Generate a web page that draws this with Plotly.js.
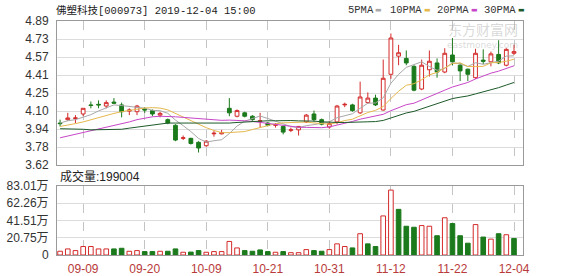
<!DOCTYPE html>
<html>
<head>
<meta charset="utf-8">
<script src="https://cdn.plot.ly/plotly-3.0.1.min.js"></script>
<style>
  html, body { margin: 0; padding: 0; background: #fff; }
  #chart { width: 578px; height: 276px; }
</style>
</head>
<body>
<div id="chart"></div>
<script>
// 佛塑科技 (000973) daily K-line, 2019-09-04 .. 2019-12-04
const dates = [
  '09-04','09-05','09-06','09-09','09-10','09-11','09-12','09-16','09-17','09-18',
  '09-19','09-20','09-23','09-24','09-25','09-26','09-27','09-30','10-08','10-09',
  '10-10','10-11','10-14','10-15','10-16','10-17','10-18','10-21','10-22','10-23',
  '10-24','10-25','10-28','10-29','10-30','10-31','11-01','11-04','11-05','11-06',
  '11-07','11-08','11-11','11-12','11-13','11-14','11-15','11-18','11-19','11-20',
  '11-21','11-22','11-25','11-26','11-27','11-28','11-29','12-02','12-03','12-04'
];
const open = [
  3.99, 4.02, 4.03, 4.07, 4.15, 4.155, 4.14, 4.175, 4.15, 4.095,
  4.09, 4.115, 4.10, 4.06, 4.02, 3.97, 3.855, 3.855, 3.82, 3.79,
  3.895, 3.895, 4.12, 4.05, 4.08, 4.05, 4.005, 3.99, 3.97, 3.96,
  3.925, 3.93, 4.00, 4.07, 4.02, 3.955, 4.00, 4.15, 4.15, 4.08,
  4.17, 4.21, 4.105, 4.42, 4.58, 4.56, 4.49, 4.29, 4.46, 4.52,
  4.44, 4.59, 4.50, 4.465, 4.39, 4.545, 4.53, 4.595, 4.50, 4.605
];
const high = [
  4.02, 4.08, 4.06, 4.12, 4.18, 4.19, 4.19, 4.21, 4.17, 4.12,
  4.15, 4.13, 4.11, 4.09, 4.03, 3.98, 3.88, 3.86, 3.83, 3.84,
  3.92, 3.93, 4.21, 4.11, 4.09, 4.06, 4.08, 4.00, 3.99, 3.97,
  3.95, 3.96, 4.07, 4.10, 4.03, 4.01, 4.15, 4.17, 4.16, 4.355,
  4.26, 4.24, 4.55, 4.78, 4.68, 4.63, 4.50, 4.55, 4.63, 4.56,
  4.65, 4.74, 4.52, 4.47, 4.645, 4.64, 4.62, 4.72, 4.65, 4.68
];
const low = [
  3.96, 4.01, 3.99, 4.05, 4.12, 4.12, 4.12, 4.16, 4.04, 4.06,
  4.06, 4.08, 4.05, 4.04, 3.98, 3.83, 3.84, 3.80, 3.73, 3.78,
  3.87, 3.89, 4.05, 4.04, 4.04, 4.01, 3.95, 3.96, 3.95, 3.89,
  3.91, 3.88, 3.99, 4.00, 3.97, 3.94, 3.98, 4.13, 4.09, 4.07,
  4.16, 4.14, 4.10, 4.38, 4.50, 4.50, 4.27, 4.28, 4.40, 4.39,
  4.43, 4.50, 4.36, 4.36, 4.38, 4.51, 4.49, 4.51, 4.49, 4.59
];
const close = [
  3.985, 4.035, 4.035, 4.12, 4.145, 4.15, 4.17, 4.165, 4.09, 4.105,
  4.14, 4.105, 4.07, 4.075, 3.99, 3.84, 3.86, 3.81, 3.77, 3.83,
  3.90, 3.905, 4.08, 4.10, 4.05, 4.02, 4.01, 3.97, 3.975, 3.91,
  3.93, 3.96, 4.06, 4.02, 3.98, 3.985, 4.14, 4.155, 4.10, 4.22,
  4.21, 4.15, 4.385, 4.74, 4.61, 4.52, 4.28, 4.50, 4.535, 4.44,
  4.605, 4.53, 4.45, 4.42, 4.605, 4.535, 4.60, 4.52, 4.64, 4.62
];
// close of the session before the first one shown
const prevClose = 3.97;
const volume = [
  45000, 73000, 53000, 102000, 102000, 73000, 73000, 73000, 81000, 45000,
  53000, 41000, 41000, 45000, 45000, 73000, 33000, 35000, 53000, 33000,
  41000, 41000, 163000, 85000, 53000, 45000, 61000, 41000, 33000, 41000,
  28000, 28000, 65000, 53000, 45000, 65000, 134000, 102000, 85000, 256000,
  134000, 102000, 470000, 781000, 549000, 346000, 334000, 354000, 346000, 232000,
  448000, 378000, 232000, 142000, 366000, 216000, 191000, 256000, 244000, 199004
];
const ma5 = [
  3.99, 4.01, 4.02, 4.04, 4.064, 4.097, 4.124, 4.15, 4.144, 4.136,
  4.134, 4.121, 4.102, 4.099, 4.076, 4.016, 3.967, 3.915, 3.854, 3.822,
  3.834, 3.843, 3.897, 3.963, 4.007, 4.031, 4.052, 4.03, 4.005, 3.977,
  3.959, 3.949, 3.967, 3.976, 3.99, 4.001, 4.037, 4.056, 4.072, 4.12,
  4.165, 4.167, 4.213, 4.341, 4.419, 4.481, 4.507, 4.53, 4.489, 4.455,
  4.472, 4.522, 4.512, 4.489, 4.522, 4.508, 4.522, 4.536, 4.58, 4.583
];
const ma10 = [
  3.96, 3.97, 3.985, 4.00, 4.02, 4.04, 4.06, 4.075, 4.09, 4.10,
  4.116, 4.123, 4.126, 4.122, 4.106, 4.075, 4.044, 4.009, 3.977, 3.949,
  3.925, 3.905, 3.906, 3.909, 3.915, 3.933, 3.948, 3.964, 3.984, 3.992,
  3.995, 4.001, 3.999, 3.991, 3.984, 3.98, 3.993, 4.012, 4.024, 4.055,
  4.083, 4.102, 4.135, 4.207, 4.27, 4.323, 4.337, 4.372, 4.415, 4.437,
  4.477, 4.515, 4.521, 4.489, 4.489, 4.49, 4.522, 4.524, 4.535, 4.553
];
const ma20 = [
  3.86, 3.875, 3.89, 3.905, 3.92, 3.935, 3.95, 3.965, 3.985, 4.00,
  4.02, 4.035, 4.045, 4.05, 4.05, 4.045, 4.04, 4.035, 4.03, 4.025,
  4.02, 4.014, 4.016, 4.015, 4.01, 4.004, 3.996, 3.986, 3.98, 3.971,
  3.96, 3.953, 3.952, 3.95, 3.949, 3.956, 3.97, 3.988, 4.004, 4.024,
  4.039, 4.051, 4.067, 4.099, 4.127, 4.152, 4.165, 4.192, 4.22, 4.246,
  4.28, 4.308, 4.328, 4.348, 4.379, 4.407, 4.43, 4.448, 4.475, 4.495
];
const ma30 = [
  3.94, 3.94, 3.935, 3.935, 3.93, 3.93, 3.93, 3.93, 3.935, 3.945,
  3.955, 3.965, 3.975, 3.985, 3.99, 3.99, 3.99, 3.99, 3.985, 3.985,
  3.985, 3.99, 3.99, 3.995, 4.00, 4.00, 4.005, 4.01, 4.01, 4.014,
  4.012, 4.009, 4.01, 4.007, 4.001, 3.996, 3.995, 3.995, 3.995, 3.999,
  4.001, 4.003, 4.013, 4.035, 4.056, 4.079, 4.093, 4.116, 4.141, 4.161,
  4.185, 4.206, 4.218, 4.229, 4.247, 4.264, 4.284, 4.302, 4.325, 4.348
];
const priceTickText = ['3.62','3.78','3.94','4.10','4.25','4.41','4.57','4.73','4.89'];
const volTickText = ['0','20.75万','41.51万','62.26万','83.01万'];
const dateTickIdx = [3, 11, 19, 27, 35, 43, 51, 59];
const maNames = ['5PMA', '10PMA', '20PMA', '30PMA'];

// ---- drawing ----
const idx = dates.map((_, i) => i);
const RED = '#d42a2a', GREEN = '#1b7a1b';
const maColors = ['#a8a8a8', '#e6b84e', '#c846c8', '#1d5a2a'];

const priceMin = 3.62, priceMax = 4.89;
const priceTicks = priceTickText.map((_, k) => priceMin + k * (priceMax - priceMin) / (priceTickText.length - 1));
const volMax = 830100;
const volTicks = volTickText.map((_, k) => k * volMax / (volTickText.length - 1));

// volume bars are coloured by the change against the previous close
const volUp = close.map((c, i) => c >= (i === 0 ? prevClose : close[i - 1]));

// plot box in page pixels
const L = 57, R = 523, T = 21, B = 255;
const px = x => (x - L) / (R - L);
const py = y => (B - y) / (B - T);
const xRange = [-0.4, 60.17];

const traces = [
  {
    type: 'candlestick', x: idx, open: open, high: high, low: low, close: close,
    xaxis: 'x', yaxis: 'y', hoverinfo: 'skip', whiskerwidth: 0,
    increasing: { line: { color: RED, width: 1 }, fillcolor: '#ffffff' },
    decreasing: { line: { color: GREEN, width: 1 }, fillcolor: GREEN }
  }
];
[ma5, ma10, ma20, ma30].forEach((m, k) => {
  traces.push({
    type: 'scatter', mode: 'lines', x: idx, y: m, xaxis: 'x', yaxis: 'y',
    line: { color: maColors[k], width: 1 }, hoverinfo: 'skip', name: maNames[k]
  });
});
traces.push({
  type: 'bar', x: idx, y: volume, xaxis: 'x2', yaxis: 'y2', width: 0.6,
  marker: {
    color: volUp.map(u => u ? '#ffffff' : GREEN),
    line: { color: volUp.map(u => u ? RED : GREEN), width: 1 }
  },
  hoverinfo: 'skip'
});

const annotations = [
  {
    text: '成交量:' + volume[volume.length - 1], xref: 'paper', yref: 'paper',
    x: px(58), y: py(176), xanchor: 'left', yanchor: 'middle', showarrow: false,
    font: { family: 'Liberation Sans, Noto Sans CJK SC, sans-serif', size: 12, color: '#222' }
  },
  {
    text: '东方财富网', xref: 'paper', yref: 'paper', x: px(520), y: py(29),
    xanchor: 'right', yanchor: 'middle', showarrow: false,
    font: { family: 'Noto Sans CJK SC', size: 14, color: 'rgba(170,170,170,0.45)' }
  },
  {
    text: 'eastmoney.com', xref: 'paper', yref: 'paper', x: px(520), y: py(45),
    xanchor: 'right', yanchor: 'middle', showarrow: false,
    font: { family: 'DejaVu Sans', size: 9, color: 'rgba(170,170,170,0.45)' }
  }
];
const legendX = [346, 388, 435, 482];
maNames.forEach((n, k) => {
  annotations.push({
    text: n, xref: 'paper', yref: 'paper', x: px(legendX[k]), y: py(10),
    xanchor: 'left', yanchor: 'middle', showarrow: false,
    font: { family: 'Liberation Mono, DejaVu Sans Mono, monospace', size: 10.5, color: '#333' }
  });
  annotations.push({
    text: '▬', xref: 'paper', yref: 'paper', x: px(legendX[k] + n.length * 6.3 + 2), y: py(10),
    xanchor: 'left', yanchor: 'middle', showarrow: false,
    font: { family: 'DejaVu Sans', size: 7, color: maColors[k] }
  });
});

const gridCol = '#dcdcdc', boxCol = '#9a9a9a', vGrid = '#c4c4c4';
const layout = {
  width: 578, height: 276,
  margin: { l: L, r: 578 - R, t: T, b: 276 - B, pad: 0 },
  paper_bgcolor: '#ffffff', plot_bgcolor: '#ffffff',
  showlegend: false,
  font: { family: 'Liberation Sans, Arial, Noto Sans CJK SC, sans-serif', size: 12, color: '#333' },
  title: {
    text: '佛塑科技[000973] 2019-12-04 15:00',
    xref: 'container', yref: 'container', x: 56 / 578, xanchor: 'left',
    y: 1 - 10 / 276, yanchor: 'middle',
    font: { family: 'Liberation Mono, DejaVu Sans Mono, Noto Sans CJK SC, monospace', size: 10.5, color: '#222' }
  },
  xaxis: {
    domain: [0, 1], anchor: 'y', range: xRange, rangeslider: { visible: false },
    tickvals: dateTickIdx, ticktext: dateTickIdx.map(i => dates[i]), showticklabels: false,
    ticks: '', showgrid: true, gridcolor: vGrid, griddash: 'dash', gridwidth: 1,
    zeroline: false, showline: true, mirror: true, linecolor: boxCol, linewidth: 1, fixedrange: true
  },
  yaxis: {
    domain: [py(165), 1], anchor: 'x', range: [priceMin, priceMax],
    tickvals: priceTicks, ticktext: priceTickText, ticks: '', ticklabelstandoff: 5,
    showgrid: true, gridcolor: gridCol, zeroline: false,
    showline: true, mirror: true, linecolor: boxCol, linewidth: 1, fixedrange: true,
    tickfont: { size: 12, color: '#333' }
  },
  xaxis2: {
    domain: [0, 1], anchor: 'y2', range: xRange,
    tickvals: dateTickIdx, ticktext: dateTickIdx.map(i => dates[i]),
    ticks: '', ticklabelstandoff: 3, showgrid: true, gridcolor: vGrid, griddash: 'dash',
    zeroline: false, showline: true, mirror: true, linecolor: boxCol, linewidth: 1, fixedrange: true,
    tickfont: { size: 12, color: '#b83a3a' }
  },
  yaxis2: {
    domain: [0, py(186)], anchor: 'x2', range: [0, volMax],
    tickvals: volTicks, ticktext: volTickText, ticks: '', ticklabelstandoff: 5,
    showgrid: true, gridcolor: gridCol, zeroline: false,
    showline: true, mirror: true, linecolor: boxCol, linewidth: 1, fixedrange: true,
    tickfont: { size: 12, color: '#333' }
  },
  bargap: 0,
  annotations: annotations
};

Plotly.newPlot('chart', traces, layout, { staticPlot: true, displayModeBar: false });
</script>
</body>
</html>
